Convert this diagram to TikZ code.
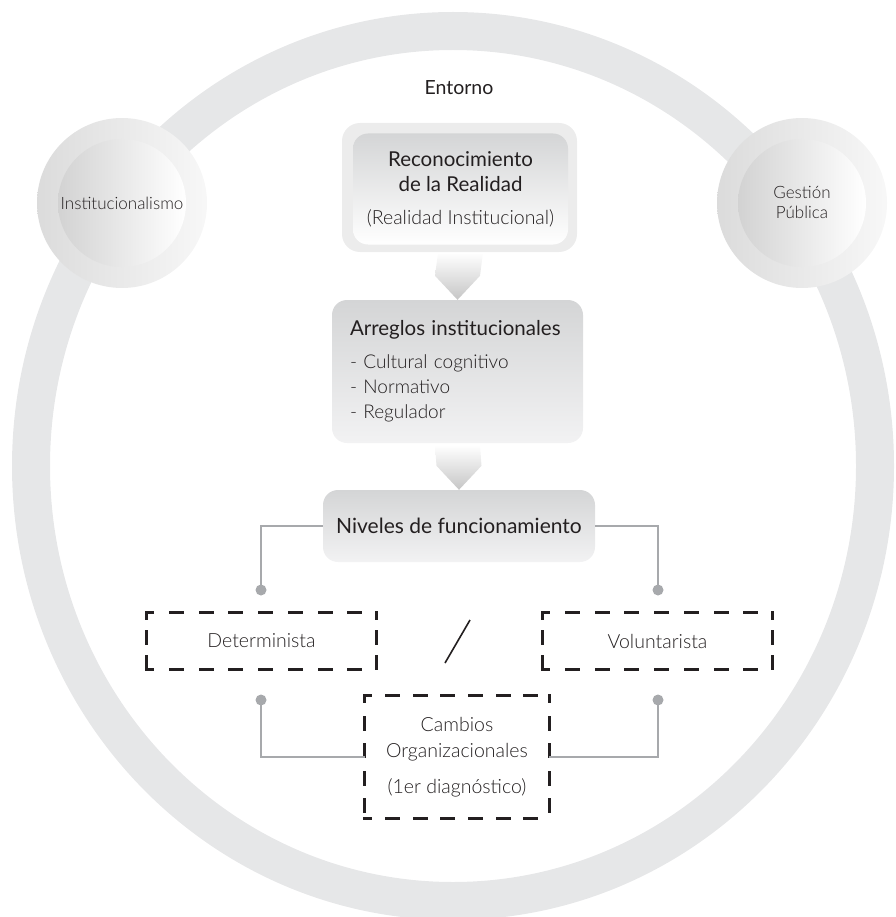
\documentclass[tikz,border=0pt]{standalone}
\usepackage{fontspec}
\setmainfont{Lato}
\newfontfamily\lightfont{Lato Light}
\usetikzlibrary{calc}

\definecolor{ringgray}{HTML}{E6E7E8}
\definecolor{linkgray}{HTML}{A7A9AC}
\definecolor{textgray}{HTML}{231F20}
\definecolor{boxtop}{HTML}{D4D5D6}
\definecolor{boxbot}{HTML}{F2F2F3}

% marco discontinuo: nodo, hueco horizontal, hueco vertical
\newcommand{\dashframe}[3]{%
  \draw[textgray, line width=3pt, line cap=rect, dash pattern=on 12pt off #2pt, dash phase=6pt]
    (#1.north west) -- (#1.north east) (#1.south west) -- (#1.south east);
  \draw[textgray, line width=3pt, line cap=rect, dash pattern=on 12pt off #3pt, dash phase=6pt]
    (#1.north west) -- (#1.south west) (#1.north east) -- (#1.south east);}

\begin{document}
\begin{tikzpicture}[x=1pt, y=-1pt,
    box/.style={rounded corners=15pt, inner sep=0pt, text=textgray},
    dashbox/.style={inner sep=0pt, align=center, text=textgray,
        font=\lightfont\fontsize{19.5}{26}\selectfont},
    link/.style={draw=linkgray, line width=2.5pt},
    chevron/.style={top color=white, bottom color=gray!45},
    halo/.style={left color=gray!28, right color=gray!6},
    disc/.style={text=textgray, align=center, font=\lightfont\fontsize{17}{20}\selectfont}]
    \useasboundingbox (0,0) rectangle (895,917);

    % Entorno (anillo)
    \fill[ringgray, even odd rule] (453,466) ellipse [x radius=441, y radius=454]
        (453,466) ellipse [x radius=403, y radius=416];
    \node[text=textgray, font=\fontsize{19.5}{24}\selectfont] (ent) at (459,88) {Entorno};

    % circulos laterales
    \shade[halo] (122,203) circle (85);
    \shade[left color=gray!35, middle color=white, right color=white] (122,203) circle (64);
    \node[disc] (inst) at (122,203) {Institucionalismo};
    \shade[halo] (802,203) circle (85);
    \shade[left color=gray!35, middle color=white, right color=white] (802,203) circle (64);
    \node[disc] (gest) at (802,202) {Gestión\\Pública};

    % Reconocimiento
    \fill[gray!15, rounded corners=18pt] (342,123) rectangle (577,252);
    \node[box, top color=boxtop, bottom color=white, minimum width=215pt, minimum height=111pt,
        align=center, font=\fontsize{20.5}{25}\selectfont] (reco) at (460.5,189)
        {Reconocimiento\\de la Realidad\\[8pt]{\lightfont\fontsize{19.5}{25}\selectfont (Realidad Institucional)}};

    % Arreglos
    \node[box, top color=boxtop, bottom color=boxbot, minimum width=251pt, minimum height=143pt,
        text width=215pt, align=left, font=\lightfont\fontsize{19}{25}\selectfont] (arreg) at (457.5,371.5)
        {{\normalfont\fontsize{20.5}{25}\selectfont Arreglos institucionales}\\[8pt]
         - Cultural cognitivo\\- Normativo\\- Regulador};

    % Niveles
    \node[box, top color=boxtop, bottom color=boxbot, minimum width=272pt, minimum height=72pt,
        font=\fontsize{21}{25}\selectfont] (niv) at (459,526) {Niveles de funcionamiento};

    % flechas
    \shade[chevron] ($(reco.south)+(-22.5,8)$) -- ++(45,0) -- ($(arreg.north)+(22.5,-24)$)
        -- (arreg.north) -- ($(arreg.north)+(-22.5,-24)$) -- cycle;
    \shade[chevron] ($(arreg.south)+(-22.5,2)$) -- ++(45,0) -- ($(niv.north)+(22.5,-24)$)
        -- (niv.north) -- ($(niv.north)+(-22.5,-24)$) -- cycle;

    % Determinista / Voluntarista
    \node[dashbox, minimum width=229pt, minimum height=56pt] (det) at (261.5,641) {Determinista};
    \node[dashbox, minimum width=229pt, minimum height=56pt] (vol) at (657.5,641) {Voluntarista};
    \dashframe{det}{17.71}{13}
    \dashframe{vol}{17.71}{13}
    \draw[textgray, line width=1.6pt] (470,620) -- (445,663);

    % Cambios
    \node[dashbox, minimum width=184pt, minimum height=122pt] (camb) at (457,757)
        {Cambios\\Organizacionales\\[10pt](1er diagnóstico)};
    \dashframe{camb}{15.67}{15.5}

    % conectores
    \coordinate (dl1) at (261,590);
    \coordinate (dr1) at (658,590);
    \coordinate (dl2) at (261,700);
    \coordinate (dr2) at (658,700);
    \draw[link] (niv.west) -| (dl1);
    \draw[link] (niv.east) -| (dr1);
    \draw[link] (dl2) |- (camb.west);
    \draw[link] (dr2) |- (camb.east);
    \fill[linkgray] (dl1) circle (5.5) (dr1) circle (5.5) (dl2) circle (5.5) (dr2) circle (5.5);
\end{tikzpicture}
\end{document}
